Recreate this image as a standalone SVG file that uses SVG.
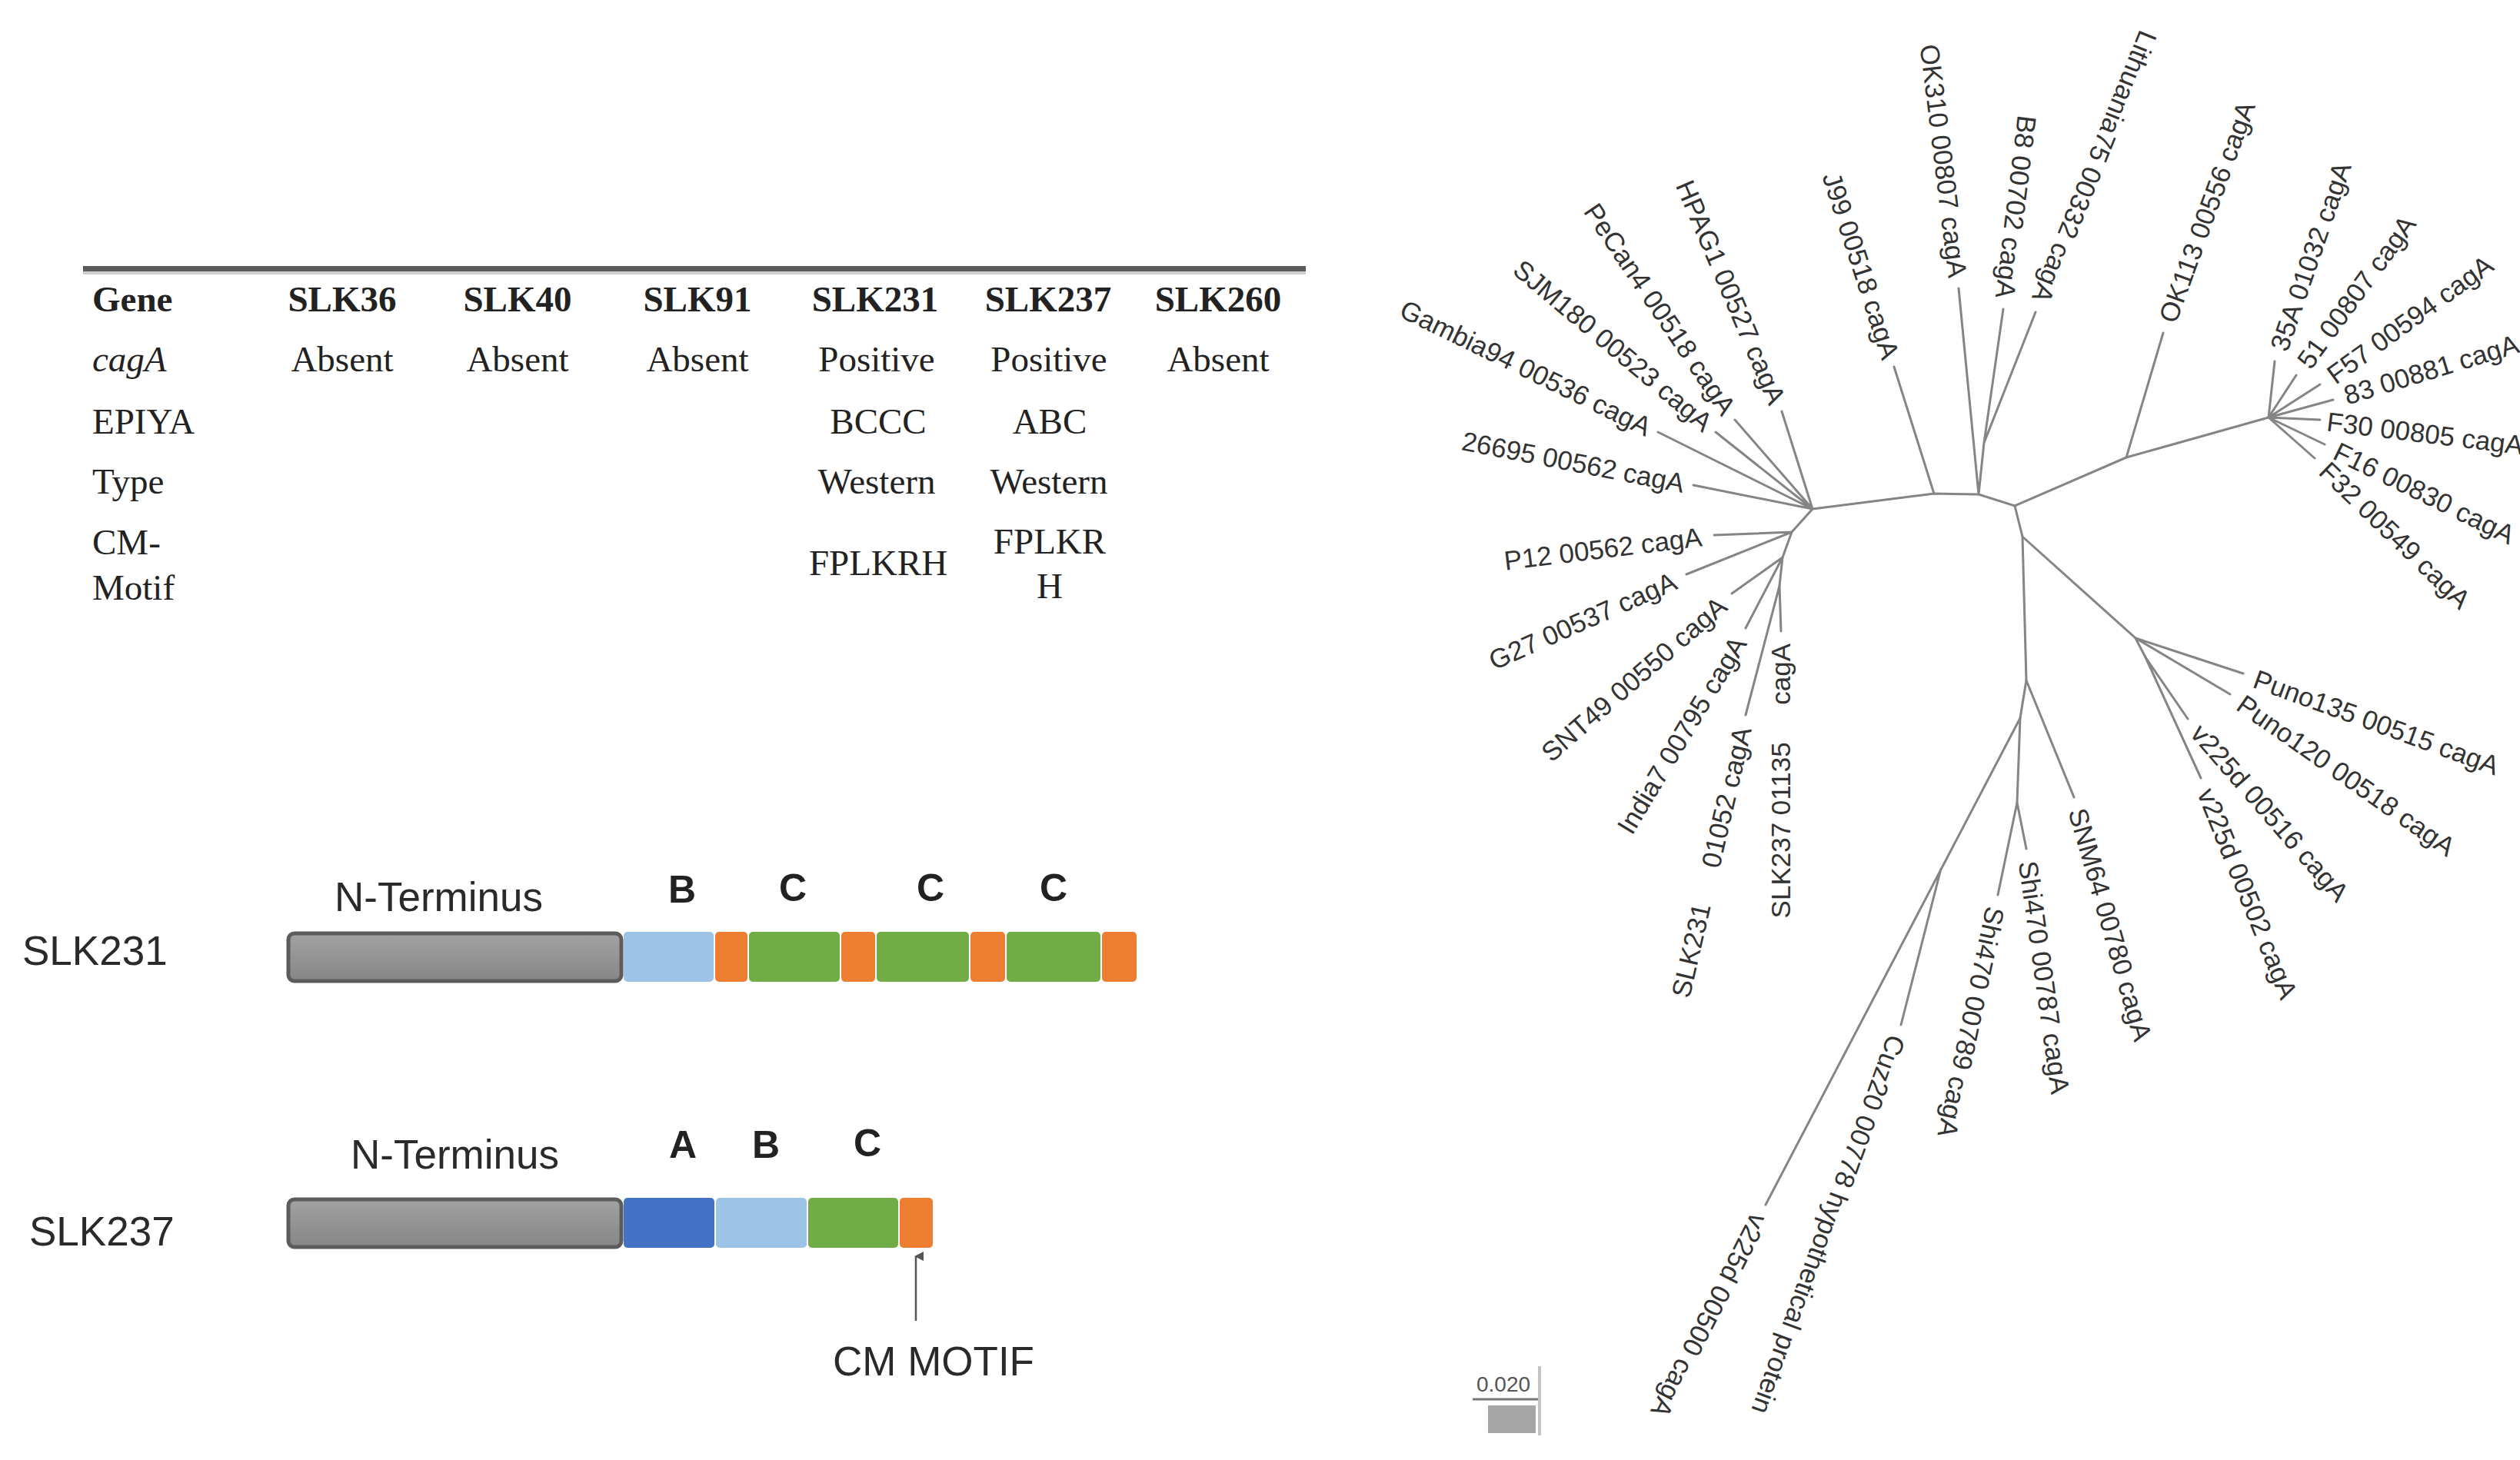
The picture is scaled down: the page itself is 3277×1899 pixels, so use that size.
<svg xmlns="http://www.w3.org/2000/svg" width="3277" height="1899" viewBox="0 0 3277 1899">
<style>
.tb{font-family:"Liberation Serif","Times New Roman",serif;font-size:47px;fill:#222}
.tbh{font-family:"Liberation Serif","Times New Roman",serif;font-size:47px;font-weight:bold;fill:#222}
.c{text-anchor:middle}
.pl{font-family:"Liberation Sans",Arial,sans-serif;font-size:53px;fill:#2a2a2a}
.pb{font-family:"Liberation Sans",Arial,sans-serif;font-size:50px;font-weight:bold;fill:#222;text-anchor:middle}
.lb{font-family:"Liberation Sans",Arial,sans-serif;font-size:35px;fill:#333}
.e{text-anchor:end}
.edge{stroke:#858585;stroke-width:3;fill:none;stroke-linecap:round}
</style>
<defs>
<linearGradient id="gGray" x1="0" y1="0" x2="0" y2="1">
<stop offset="0" stop-color="#a2a2a2"/>
<stop offset="1" stop-color="#868686"/>
</linearGradient>
<marker id="arr" markerWidth="12" markerHeight="12" refX="6" refY="2" orient="auto-start-reverse" markerUnits="userSpaceOnUse">
<path d="M0,12 L6,0 L12,12 Z" fill="#555"/>
</marker>
</defs>
<rect width="3277" height="1899" fill="#ffffff"/>

<g id="table">
<rect x="108" y="346" width="1590" height="7" fill="#5a5a5a"/>
<rect x="108" y="353" width="1590" height="4" fill="#cfcfcf"/>
<text class="tbh" x="120" y="405">Gene</text>
<text class="tbh c" x="445" y="405">SLK36</text>
<text class="tbh c" x="673" y="405">SLK40</text>
<text class="tbh c" x="907" y="405">SLK91</text>
<text class="tbh c" x="1138" y="405">SLK231</text>
<text class="tbh c" x="1363" y="405">SLK237</text>
<text class="tbh c" x="1584" y="405">SLK260</text>
<text class="tb" x="120" y="483" font-style="italic">cagA</text>
<text class="tb c" x="445" y="483">Absent</text>
<text class="tb c" x="673" y="483">Absent</text>
<text class="tb c" x="907" y="483">Absent</text>
<text class="tb c" x="1140" y="483">Positive</text>
<text class="tb c" x="1364" y="483">Positive</text>
<text class="tb c" x="1584" y="483">Absent</text>
<text class="tb" x="120" y="564">EPIYA</text>
<text class="tb c" x="1142" y="564">BCCC</text>
<text class="tb c" x="1365" y="564">ABC</text>
<text class="tb" x="120" y="642">Type</text>
<text class="tb c" x="1140" y="642">Western</text>
<text class="tb c" x="1364" y="642">Western</text>
<text class="tb" x="120" y="721">CM-</text>
<text class="tb" x="120" y="780">Motif</text>
<text class="tb c" x="1142" y="748">FPLKRH</text>
<text class="tb c" x="1365" y="720">FPLKR</text>
<text class="tb c" x="1365" y="778">H</text>
</g>

<g id="slk231">
<text class="pl" x="29" y="1255">SLK231</text>
<text class="pl" x="435" y="1185">N-Terminus</text>
<text class="pb" x="887" y="1174">B</text>
<text class="pb" x="1031" y="1172">C</text>
<text class="pb" x="1210" y="1172">C</text>
<text class="pb" x="1370" y="1172">C</text>
<rect x="375" y="1214" width="433" height="62" rx="8" fill="url(#gGray)" stroke="#5c5c5c" stroke-width="5"/>
<rect x="811" y="1212" width="117" height="65" rx="5" fill="#9DC3E6"/>
<rect x="930" y="1212" width="42" height="65" rx="5" fill="#ED7D31"/>
<rect x="974" y="1212" width="118" height="65" rx="5" fill="#70AD47"/>
<rect x="1094" y="1212" width="44" height="65" rx="5" fill="#ED7D31"/>
<rect x="1140" y="1212" width="120" height="65" rx="5" fill="#70AD47"/>
<rect x="1262" y="1212" width="45" height="65" rx="5" fill="#ED7D31"/>
<rect x="1309" y="1212" width="122" height="65" rx="5" fill="#70AD47"/>
<rect x="1433" y="1212" width="45" height="65" rx="5" fill="#ED7D31"/>
</g>

<g id="slk237">
<text class="pl" x="38" y="1620">SLK237</text>
<text class="pl" x="456" y="1520">N-Terminus</text>
<text class="pb" x="888" y="1506">A</text>
<text class="pb" x="996" y="1506">B</text>
<text class="pb" x="1128" y="1504">C</text>
<rect x="375" y="1560" width="433" height="62" rx="8" fill="url(#gGray)" stroke="#5c5c5c" stroke-width="5"/>
<rect x="811" y="1558" width="118" height="65" rx="5" fill="#4472C4"/>
<rect x="931" y="1558" width="118" height="65" rx="5" fill="#9DC3E6"/>
<rect x="1051" y="1558" width="117" height="65" rx="5" fill="#70AD47"/>
<rect x="1170" y="1558" width="43" height="65" rx="5" fill="#ED7D31"/>
</g>

<g id="cm-motif">
<line x1="1191" y1="1718" x2="1191" y2="1634" stroke="#555" stroke-width="2.5" marker-end="url(#arr)"/>
<text class="pl" x="1083" y="1789">CM MOTIF</text>
</g>

<g id="connectors">
<path class="edge" d="M2357,662 L2515,642 L2573,643 L2620,658 L2765,595 L2950,543"/>
<path class="edge" d="M2620,658 L2630,698 L2635,885 L2627,934 L2623,1044"/>
<path class="edge" d="M2630,698 L2777,830 L2790,855"/>
<path class="edge" d="M2357,662 L2330,692 L2318,725 L2314,762"/>
<path class="edge" d="M2357,662 L2202,631 M2357,662 L2156,562 M2357,662 L2231,562 M2357,662 L2256,546 M2357,662 L2317,535"/>
<path class="edge" d="M2515,642 L2463,477"/>
<path class="edge" d="M2573,643 L2547,375 M2573,643 L2580,576 L2605,402 M2580,576 L2647,406"/>
<path class="edge" d="M2765,595 L2813,433"/>
<path class="edge" d="M2950,543 L2958,470 M2950,543 L2986,488 M2950,543 L3017,500 M2950,543 L3034,520 M2950,543 L3017,546 M2950,543 L3023,578 M2950,543 L3010,596"/>
<path class="edge" d="M2330,692 L2229,696 M2330,692 L2193,747"/>
<path class="edge" d="M2318,725 L2252,772 M2318,725 L2270,817"/>
<path class="edge" d="M2314,762 L2270,930 M2314,762 L2316,821"/>
<path class="edge" d="M2635,885 L2697,1037"/>
<path class="edge" d="M2627,934 L2296,1567 M2524,1130 L2472,1333"/>
<path class="edge" d="M2623,1044 L2635,1104 M2623,1044 L2598,1164"/>
<path class="edge" d="M2777,830 L2917,876 M2777,830 L2900,903 M2790,855 L2845,935 M2790,855 L2862,1012"/>
</g>

<g id="leaf-26695"><text class="lb e" x="2190" y="629" dy="0.35em" transform="rotate(11 2190 629)">26695 00562 cagA</text></g>
<g id="leaf-gambia94"><text class="lb e" x="2145" y="557" dy="0.35em" transform="rotate(26 2145 557)">Gambia94 00536 cagA</text></g>
<g id="leaf-sjm180"><text class="lb e" x="2222" y="554" dy="0.35em" transform="rotate(40 2222 554)">SJM180 00523 cagA</text></g>
<g id="leaf-pecan4"><text class="lb e" x="2249" y="536" dy="0.35em" transform="rotate(56 2249 536)">PeCan4 00518 cagA</text></g>
<g id="leaf-hpag1"><text class="lb e" x="2312" y="524" dy="0.35em" transform="rotate(67 2312 524)">HPAG1 00527 cagA</text></g>
<g id="leaf-j99"><text class="lb e" x="2459" y="466" dy="0.35em" transform="rotate(72 2459 466)">J99 00518 cagA</text></g>
<g id="leaf-ok310"><text class="lb e" x="2546" y="361" dy="0.35em" transform="rotate(83 2546 361)">OK310 00807 cagA</text></g>
<g id="leaf-b8"><text class="lb e" x="2607" y="388" dy="0.35em" transform="rotate(97 2607 388)">B8 00702 cagA</text></g>
<g id="leaf-lithuania75"><text class="lb e" x="2653" y="392" dy="0.35em" transform="rotate(112 2653 392)">Lithuania75 00332 cagA</text></g>
<g id="leaf-ok113"><text class="lb" x="2818" y="418" dy="0.35em" transform="rotate(-70 2818 418)">OK113 00556 cagA</text></g>
<g id="leaf-35a"><text class="lb" x="2963" y="455" dy="0.35em" transform="rotate(-71 2963 455)">35A 01032 cagA</text></g>
<g id="leaf-51"><text class="lb" x="2995" y="475" dy="0.35em" transform="rotate(-54 2995 475)">51 00807 cagA</text></g>
<g id="leaf-f57"><text class="lb" x="3030" y="491" dy="0.35em" transform="rotate(-36 3030 491)">F57 00594 cagA</text></g>
<g id="leaf-83"><text class="lb" x="3049" y="515" dy="0.35em" transform="rotate(-17 3049 515)">83 00881 cagA</text></g>
<g id="leaf-f30"><text class="lb" x="3026" y="548" dy="0.35em" font-size="31" transform="rotate(7 3026 548)">F30 00805 cagA</text></g>
<g id="leaf-f16"><text class="lb" x="3037" y="585" dy="0.35em" transform="rotate(26 3037 585)">F16 00830 cagA</text></g>
<g id="leaf-f32"><text class="lb" x="3022" y="607" dy="0.35em" transform="rotate(44 3022 607)">F32 00549 cagA</text></g>
<g id="leaf-puno135"><text class="lb" x="2932" y="882" dy="0.35em" transform="rotate(20 2932 882)">Puno135 00515 cagA</text></g>
<g id="leaf-puno120"><text class="lb" x="2913" y="912" dy="0.35em" transform="rotate(35 2913 912)">Puno120 00518 cagA</text></g>
<g id="leaf-v225d-00516"><text class="lb" x="2856" y="947" dy="0.35em" transform="rotate(49 2856 947)">v225d 00516 cagA</text></g>
<g id="leaf-v225d-00502"><text class="lb" x="2868" y="1027" dy="0.35em" transform="rotate(68 2868 1027)">v225d 00502 cagA</text></g>
<g id="leaf-snm64"><text class="lb" x="2701" y="1052" dy="0.35em" transform="rotate(74 2701 1052)">SNM64 00780 cagA</text></g>
<g id="leaf-shi470-00787"><text class="lb" x="2637" y="1120" dy="0.35em" transform="rotate(82 2637 1120)">Shi470 00787 cagA</text></g>
<g id="leaf-shi470-00789"><text class="lb" x="2595" y="1180" dy="0.35em" transform="rotate(102 2595 1180)">Shi470 00789 cagA</text></g>
<g id="leaf-cuz20"><text class="lb" x="2467" y="1348" dy="0.35em" transform="rotate(110 2467 1348)">Cuz20 00778 hypothetical protein</text></g>
<g id="leaf-v225d-00500"><text class="lb" x="2289" y="1581" dy="0.35em" transform="rotate(117 2289 1581)">v225d 00500 cagA</text></g>
<g id="leaf-p12"><text class="lb e" x="2213" y="698" dy="0.35em" transform="rotate(-7 2213 698)">P12 00562 cagA</text></g>
<g id="leaf-g27"><text class="lb e" x="2178" y="754" dy="0.35em" transform="rotate(-24 2178 754)">G27 00537 cagA</text></g>
<g id="leaf-snt49"><text class="lb e" x="2240" y="783" dy="0.35em" transform="rotate(-41 2240 783)">SNT49 00550 cagA</text></g>
<g id="leaf-india7"><text class="lb e" x="2262" y="831" dy="0.35em" transform="rotate(-59 2262 831)">India7 00795 cagA</text></g>
<g id="leaf-slk231"><text class="lb e" x="2266" y="946" dy="0.35em" xml:space="preserve" transform="rotate(-77 2266 946)">SLK231     01052 cagA</text></g>
<g id="leaf-slk237"><text class="lb e" x="2316" y="837" dy="0.35em" xml:space="preserve" transform="rotate(-90 2316 837)">SLK237 01135     cagA</text></g>

<g id="scale-bar">
<text x="1920" y="1810" font-family="Liberation Sans, Arial, sans-serif" font-size="28" fill="#555">0.020</text>
<line x1="1915" y1="1820" x2="2000" y2="1820" stroke="#777" stroke-width="3"/>
<line x1="2002" y1="1777" x2="2002" y2="1867" stroke="#c4c4c4" stroke-width="4"/>
<rect x="1935" y="1828" width="62" height="36" fill="#6a6a6a" opacity="0.6"/>
</g>
</svg>
